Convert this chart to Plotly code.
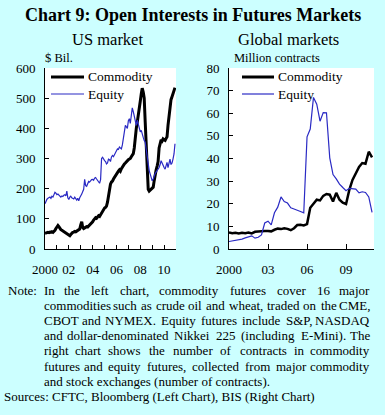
import pandas as pd
import plotly.graph_objects as go

# ---------------- DATA ----------------
us_months = pd.date_range("2000-01-01", periods=132, freq="MS")
us_commodity = [
    52, 54, 53, 55, 54, 56, 55, 57, 55, 58, 62, 68,
    72, 78, 74, 68, 64, 62, 60, 58, 57, 55, 53, 50,
    46, 44, 48, 52, 55, 56, 58, 57, 60, 62, 63, 66,
    80, 90, 72, 68, 70, 72, 74, 73, 76, 80, 84, 88,
    90, 96, 100, 104, 102, 106, 110, 108, 114, 118, 124, 130,
    136, 138, 142, 155, 180, 200, 215, 222, 225, 232, 238, 242,
    248, 252, 258, 262, 258, 266, 272, 276, 282, 285, 290, 293,
    296, 298, 300, 306, 310, 316, 335, 380, 400, 420, 440, 470,
    490, 515, 533, 520, 500, 420, 330, 250, 198, 192, 196, 200,
    203, 205, 225, 250, 262, 275, 290, 335, 355, 362, 358, 365,
    362, 360, 366, 372, 410, 440, 470, 495, 505, 515, 525, 535,
]
us_equity = [
    150, 162, 165, 168, 170, 172, 168, 175, 172, 178, 188, 185,
    180, 182, 178, 175, 172, 176, 174, 178, 180, 176, 192, 170,
    164, 172, 175, 170, 168, 166, 172, 164, 162, 168, 160, 170,
    175, 182, 190, 198, 231, 210, 208, 215, 224, 222, 228, 230,
    231, 228, 235, 237, 232, 226, 222, 218, 230, 300, 304, 296,
    293, 290, 282, 285, 298, 296, 290, 305, 310, 306, 315, 322,
    326, 332, 330, 338, 335, 332, 345, 365, 395, 410, 405, 400,
    425, 432, 416, 440, 468, 455, 440, 420, 410, 427, 415, 400,
    388, 393, 385, 370, 360, 354, 330, 300, 287, 260, 248, 235,
    226, 232, 243, 250, 255, 259, 265, 270, 280, 293, 285, 276,
    270, 265, 275, 287, 270, 290, 298, 280, 285, 298, 315, 349,
]
gl_quarters = pd.date_range("2000-01-01", periods=45, freq="QS")
gl_commodity = [
    7.3, 7.0, 7.2, 6.9, 7.2, 7.0, 7.3, 6.9,
    7.6, 7.8, 7.7, 8.0, 8.0, 7.8, 8.5, 9.0,
    8.8, 9.2, 8.9, 8.3, 9.2, 10.6, 10.7, 10.4,
    11.0, 18.2, 20.0, 21.8, 21.5, 23.5, 24.3, 24.0,
    21.0, 24.8, 21.8, 20.5, 19.9, 26.0, 30.5, 33.2,
    36.3, 38.0, 37.7, 43.0, 40.5,
]
gl_equity = [
    3.3, 3.5, 3.9, 4.1, 4.4, 4.9, 5.3, 5.8,
    4.8, 5.2, 6.2, 11.5, 12.3, 10.7, 16.0, 18.5,
    23.0, 21.0, 20.3, 18.2, 17.7, 17.0, 16.6, 16.0,
    49.6, 53.0, 67.0, 64.0, 56.5, 60.3, 60.2, 40.3,
    32.9, 31.0, 28.7, 27.2, 25.8, 26.8, 26.8, 26.5,
    24.8, 25.3, 25.0, 23.0, 16.2,
]
us_tick_years = list(range(2000, 2012))
us_tick_text = ["2000", "", "02", "", "04", "", "06", "", "08", "", "10", ""]
gl_tick_years = [2000, 2003, 2006, 2009]
gl_tick_text = ["2000", "03", "06", "09"]
series_names = ["Commodity", "Equity"]

title_text = "Chart 9: Open Interests in Futures Markets"
subtitles = ["US market", "Global markets"]
units = ["$ Bil.", "Million contracts"]
note_lines = [
    "In the left chart, commodity futures cover 16 major",
    "commodities such as crude oil and wheat, traded on the CME,",
    "CBOT and NYMEX. Equity futures include S&P, NASDAQ",
    "and dollar-denominated Nikkei 225 (including E-Mini). The",
    "right chart shows the number of contracts in commodity",
    "futures and equity futures, collected from major commodity",
    "and stock exchanges (number of contracts).",
]
source_text = "Sources: CFTC, Bloomberg (Left Chart), BIS (Right Chart)"

# ---------------- STYLE ----------------
W, H = 385, 415
FONT = "Liberation Serif, Times New Roman, serif"
BG = "#ccffff"
BLUE = "#2a2ac4"
series_colors = ["black", BLUE]


def px(x):
    return x / W


def py(y):
    return 1 - y / H


fig = go.Figure()
fig.add_trace(go.Scatter(x=us_months, y=us_commodity, name=series_names[0], mode="lines",
                         line=dict(color="black", width=3), xaxis="x", yaxis="y", showlegend=False))
fig.add_trace(go.Scatter(x=us_months, y=us_equity, name=series_names[1], mode="lines",
                         line=dict(color=BLUE, width=1.2), xaxis="x", yaxis="y", showlegend=False))
fig.add_trace(go.Scatter(x=gl_quarters, y=gl_commodity, name=series_names[0], mode="lines",
                         line=dict(color="black", width=2.5), xaxis="x2", yaxis="y2", showlegend=False))
fig.add_trace(go.Scatter(x=gl_quarters, y=gl_equity, name=series_names[1], mode="lines",
                         line=dict(color=BLUE, width=1.2), xaxis="x2", yaxis="y2", showlegend=False))

axis_common = dict(showline=True, linecolor="black", linewidth=1, showgrid=False, zeroline=False,
                   ticks="inside", tickcolor="black", automargin=False,
                   tickfont=dict(family=FONT, size=13, color="black"))
ytop, ybot = 68, 249

fig.update_layout(
    template="none",
    width=W, height=H,
    margin=dict(l=0, r=0, t=0, b=0),
    paper_bgcolor=BG, plot_bgcolor="white",
    font=dict(family=FONT, color="black"),
    showlegend=False,
    xaxis=dict(domain=[px(45), px(176)], type="date", range=["2000-01-01", "2011-01-01"],
               tickvals=[f"{y}-01-01" for y in us_tick_years], ticktext=us_tick_text,
               ticklen=4, ticklabelstandoff=8, anchor="y", **axis_common),
    yaxis=dict(domain=[py(ybot), py(ytop)], range=[0, 600], tickvals=list(range(0, 601, 100)),
               ticklen=4, ticklabelstandoff=6, anchor="x", **axis_common),
    xaxis2=dict(domain=[px(229), px(374)], type="date", range=["2000-01-01", "2011-02-25"],
                tickvals=[f"{y}-01-01" for y in gl_tick_years], ticktext=gl_tick_text,
                ticklen=5, ticklabelstandoff=8, anchor="y2", **axis_common),
    yaxis2=dict(domain=[py(ybot), py(ytop)], range=[0, 80], tickvals=list(range(0, 81, 10)),
                ticklen=4, ticklabelstandoff=6, anchor="x2", **axis_common),
)

ann = []
shapes = []


def add_text(text, x, y, size, xanchor="left", bold=False):
    t = f"<b>{text}</b>" if bold else text
    ann.append(dict(text=t, x=px(x), y=py(y), xref="paper", yref="paper", showarrow=False,
                    xanchor=xanchor, yanchor="middle", font=dict(family=FONT, size=size, color="black")))


add_text(title_text, 192.5, 15, 18, "center", bold=True)
add_text(subtitles[0], 107, 39, 16.5, "center")
add_text(subtitles[1], 288, 39, 16.5, "center")
add_text(units[0], 43, 58, 12.5)
add_text(units[1], 232, 58, 12.5)

# legends (drawn as key lines + labels)
legend_pos = [(51, 84, 86), (242, 274, 276)]
legend_widths = [3, 1.2]
for (lx0, lx1, tx) in legend_pos:
    for k, name in enumerate(series_names):
        ly = 77 + k * 17
        shapes.append(dict(type="line", xref="paper", yref="paper", x0=px(lx0), x1=px(lx1),
                           y0=py(ly), y1=py(ly), line=dict(color=series_colors[k], width=legend_widths[k])))
        add_text(name, tx, ly, 13.5)

# Times-like character widths (per 1000 em) for justified note layout
CW = {" ": 250, "a": 444, "b": 500, "c": 444, "d": 500, "e": 444, "f": 333, "g": 500, "h": 500,
      "i": 278, "j": 278, "k": 500, "l": 278, "m": 778, "n": 500, "o": 500, "p": 500, "q": 500,
      "r": 333, "s": 389, "t": 278, "u": 500, "v": 500, "w": 722, "x": 500, "y": 500, "z": 444,
      "A": 722, "B": 667, "C": 667, "D": 722, "E": 611, "F": 556, "G": 722, "H": 722, "I": 333,
      "J": 389, "K": 722, "L": 611, "M": 889, "N": 722, "O": 722, "P": 556, "Q": 722, "R": 667,
      "S": 556, "T": 611, "U": 722, "V": 722, "W": 944, "X": 722, "Y": 722, "Z": 611,
      ".": 250, ",": 250, ":": 278, "(": 333, ")": 333, "-": 333, "&": 778}
NS = 13


def wwidth(s):
    return sum(CW.get(c, 500) for c in s) * NS / 1000


x0, x1 = 42, 372
line_y0, line_dy = 290, 15.2
add_text("Note:", 6, line_y0, NS)
for i, line in enumerate(note_lines):
    y = line_y0 + i * line_dy
    words = line.split(" ")
    if i == len(note_lines) - 1:
        add_text(line.replace("&", "&amp;"), x0, y, NS)
        continue
    widths = [wwidth(w) for w in words]
    gap = (x1 - x0 - sum(widths)) / (len(words) - 1)
    cur = x0
    for j, (w, wd) in enumerate(zip(words, widths)):
        t = w.replace("&", "&amp;")
        if j == 0:
            add_text(t, cur, y, NS, "left")
        elif j == len(words) - 1:
            add_text(t, x1, y, NS, "right")
        else:
            add_text(t, cur + wd / 2, y, NS, "center")
        cur += wd + gap
add_text(source_text, 2, line_y0 + 7 * line_dy, NS)

fig.update_layout(annotations=ann, shapes=shapes)
fig.write_html("out.html", config={"displayModeBar": False},
               post_script="document.body.style.margin='0px';document.body.style.overflow='hidden';")
